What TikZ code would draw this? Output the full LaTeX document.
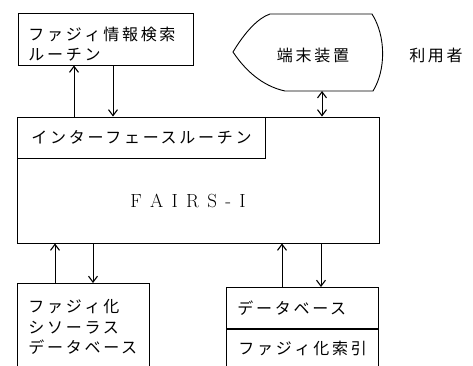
\documentclass[tikz,border=0pt]{standalone}
\usepackage{fontspec}
\newfontfamily\jp[LetterSpace=17]{Noto Sans CJK JP}
\usetikzlibrary{arrows.meta}
\tikzset{
  box/.style={draw, line width=0.9pt, inner sep=0pt},
  jtext/.style={font=\jp\fontsize{16}{20.5}\selectfont, align=left, inner sep=0pt},
}
\newcommand{\gap}{\kern8.3pt}
\begin{document}
\begin{tikzpicture}[x=1pt, y=-1pt, line width=0.9pt, >={Straight Barb[length=6pt,width=9pt,line width=1.1pt]}]
	\useasboundingbox (0,0) rectangle (473,365);
	\clip (0,0) rectangle (473,365);
	% boxes
	\node[box, minimum width=175pt, minimum height=52pt] at (105.5,39) (ret) {};
	\node[box, minimum width=362pt, minimum height=126pt] at (198,180) (main) {};
	\node[box, minimum width=248pt, minimum height=41pt, anchor=north west] at (main.north west) (iface) {};
	\node[box, minimum width=132pt, minimum height=100pt, anchor=north west] at (17,283) (thes) {};
	\node[box, minimum width=152pt, minimum height=41pt, anchor=north west] at (226,287) (db) {};
	\node[box, minimum width=152pt, minimum height=60pt, anchor=north west] at (db.south west) (idx) {};
	% terminal
	\draw (233,52) .. controls (245,32) and (258,18) .. (270,14) -- (372,14)
		.. controls (386,36) and (386,70) .. (373,91) -- (285,91)
		.. controls (262,86) and (245,70) .. (233,52) -- cycle;
	\coordinate (term) at (322,91);
	% texts
	\node[jtext, anchor=west] at (28,44) (rett) {ファジィ情報検索\\ルーチン};
	\node[jtext, anchor=west] at (31,137) (ifacet) {インターフェースルーチン};
	\node[font=\fontsize{19}{20}\selectfont, inner sep=0pt] at (188,201) (fairs) {F\gap A\gap I\gap R\gap S\gap -\gap I};
	\node[jtext] at (313,55) (termt) {端末装置};
	\node[jtext] at (436,55) (user) {利用者};
	\node[jtext, anchor=west] at (28,327) (thest) {ファジィ化\\シソーラス\\データベース};
	\node[jtext, anchor=west] at (237,308) (dbt) {データベース};
	\node[jtext, anchor=west] at (238,348) (idxt) {ファジィ化索引};
	% arrows
	\draw[->] (main.north -| 74,0) -- (ret.south -| 74,0);
	\draw[->] (ret.south -| 113,0) -- (main.north -| 113,0);
	\draw[<->] (term) -- (main.north -| term);
	\draw[->] (thes.north -| 55,0) -- (main.south -| 55,0);
	\draw[->] (main.south -| 93,0) -- (thes.north -| 93,0);
	\draw[->] (db.north -| 282,0) -- (main.south -| 282,0);
	\draw[->] (main.south -| 321,0) -- (db.north -| 321,0);
\end{tikzpicture}
\end{document}
